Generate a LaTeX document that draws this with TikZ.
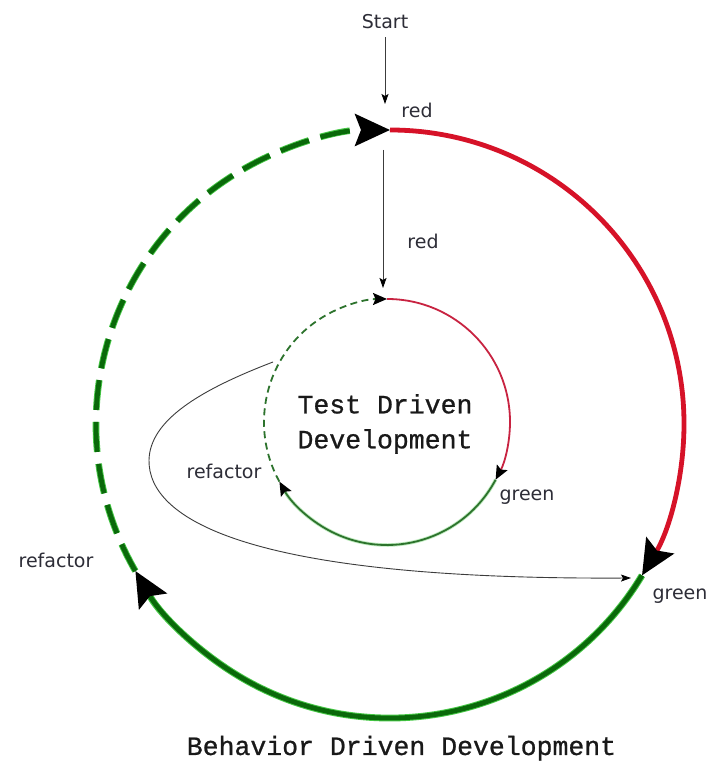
\documentclass[tikz,border=0pt]{standalone}
\usepackage{fontspec}
\newfontfamily\lblfont{DejaVu Sans}
\newfontfamily\tddfont[FakeBold=0.8]{Liberation Mono}
\usetikzlibrary{arrows.meta,calc}
\definecolor{bigred}{RGB}{214,18,40}
\definecolor{biggreen}{RGB}{10,105,10}
\definecolor{glowgreen}{RGB}{70,200,70}
\definecolor{smallred}{RGB}{200,35,65}
\definecolor{smallgreen}{RGB}{45,115,45}
\definecolor{smallglow}{RGB}{190,235,190}
\definecolor{lblgray}{RGB}{45,45,55}
\definecolor{linegray}{RGB}{60,60,60}
\begin{document}
\begin{tikzpicture}[x=1pt,y=1pt,
  lbl/.style={font=\lblfont\fontsize{19}{22}\selectfont, text=lblgray, inner sep=0pt},
  title/.style={font=\tddfont\fontsize{26.5}{35}\selectfont, text=black!90, align=center, inner sep=0pt},
  bigtip/.style={-{Stealth[length=35pt,width=32pt,inset=6pt,color=black]}},
  smalltip/.style={-{Stealth[length=14pt,width=12pt,inset=2.5pt,color=black]}},
  thinarrow/.style={draw=linegray, line width=0.9pt, -{Stealth[length=10pt,width=7pt,inset=2pt,color=black]}},
]
\fill[white] (0,0) rectangle (727,776);
\useasboundingbox (0,0) rectangle (727,776);

% centres
\coordinate (O) at (390,352);
\coordinate (I) at (387,354);
\coordinate (Otop) at ($(O)+(90:294)$);
\coordinate (Ogreen) at ($(O)+(-31:294)$);
\coordinate (Oref) at ($(O)+(210:294)$);
\coordinate (Itop) at ($(I)+(90:123)$);
\coordinate (Igreen) at ($(I)+(-28:123)$);
\coordinate (Iref) at ($(I)+(209:123)$);

% outer cycle (BDD)
\draw[bigred, line width=4.8pt, bigtip] (Otop) arc[start angle=90, end angle=-31, radius=294];
\draw[glowgreen, line width=6.8pt, shorten >=30pt] (Ogreen) arc[start angle=-31, end angle=-150, radius=294];
\draw[biggreen, line width=4.8pt, bigtip] (Ogreen) arc[start angle=-31, end angle=-150, radius=294];
\draw[glowgreen, line width=6.6pt, dash pattern=on 30pt off 12pt, shorten >=30pt] (Oref) arc[start angle=210, end angle=90, radius=294];
\draw[biggreen, line width=4.8pt, dash pattern=on 30pt off 12pt, bigtip] (Oref) arc[start angle=210, end angle=90, radius=294];

% inner cycle (TDD)
\draw[smallred, line width=1.8pt, smalltip] (Itop) arc[start angle=90, end angle=-28, radius=123];
\draw[smallglow, line width=3.5pt, shorten >=12pt] (Igreen) arc[start angle=-28, end angle=-151, radius=123];
\draw[smallgreen, line width=1.8pt, smalltip] (Igreen) arc[start angle=-28, end angle=-151, radius=123];
\draw[smallgreen, line width=1.8pt, dash pattern=on 7pt off 4.5pt, smalltip] (Iref) arc[start angle=209, end angle=90, radius=123];

% texts
\node[title] (tdd) at (385,352) {Test Driven\\Development};
\node[title, anchor=base] (bdd) at (401.5,21) {Behavior Driven Development};
\node[lbl] (start) at (385,754) {Start};
\node[lbl] (ored) at (417,666) {red};
\node[lbl] (ired) at (423,535) {red};
\node[lbl] (igreen) at (527,279) {green};
\node[lbl] (iref) at (224,305) {refactor};
\node[lbl] (oref) at (56,216) {refactor};
\node[lbl] (ogreen) at (680,180) {green};

% connectors
\coordinate (startend) at (385,672);
\coordinate (redfrom) at (383,626);
\coordinate (redto) at (383,488);
\coordinate (tddexit) at (273,414);
\coordinate (bddgreen) at (631,198);
\draw[thinarrow] (start.south) ++(0,-8) -- (startend);
\draw[thinarrow] (redfrom) -- (redto);
\draw[thinarrow] (tddexit) .. controls (200,386) and (150,356) .. (149,316)
  .. controls (148,256) and (250,196) .. (bddgreen);
\end{tikzpicture}
\end{document}
